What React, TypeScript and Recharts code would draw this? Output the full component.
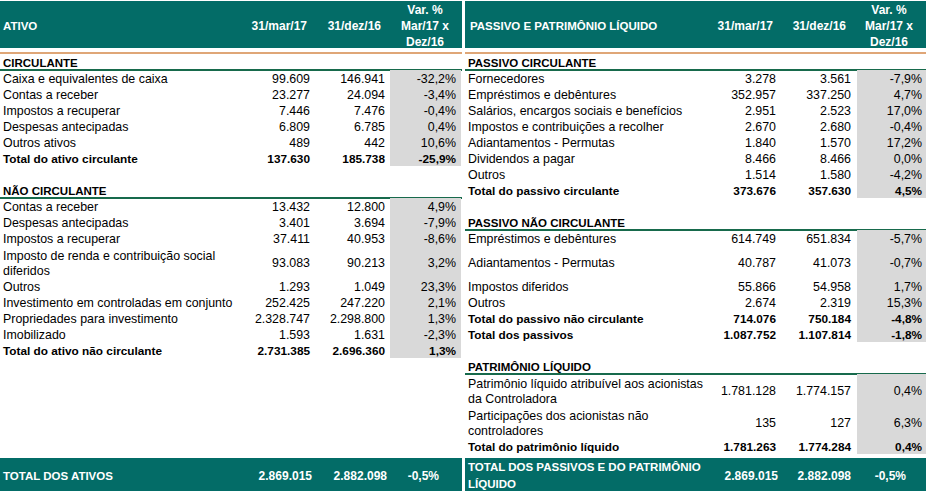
import React from "react";
import { BarChart, Bar, XAxis, YAxis, Customized } from "recharts";

// ---- data ----
const panelTitles = ["ATIVO", "PASSIVO E PATRIMÔNIO LÍQUIDO"];
const columnHeaders = ["31/mar/17", "31/dez/16"];
const varHeader = ["Var. %", "Mar/17 x", "Dez/16"];

const circulanteLabels = [
  "Caixa e equivalentes de caixa",
  "Contas a receber",
  "Impostos a recuperar",
  "Despesas antecipadas",
  "Outros ativos",
];
const circulanteMar17 = [99609, 23277, 7446, 6809, 489];
const circulanteDez16 = [146941, 24094, 7476, 6785, 442];
const circulanteVar = [-32.2, -3.4, -0.4, 0.4, 10.6];
const totalCirculante = ["Total do ativo circulante", 137630, 185738, -25.9] as const;

const naoCirculanteLabels = [
  "Contas a receber",
  "Despesas antecipadas",
  "Impostos a recuperar",
  "Imposto de renda e contribuição social\ndiferidos",
  "Outros",
  "Investimento em controladas em conjunto",
  "Propriedades para investimento",
  "Imobilizado",
];
const naoCirculanteMar17 = [13432, 3401, 37411, 93083, 1293, 252425, 2328747, 1593];
const naoCirculanteDez16 = [12800, 3694, 40953, 90213, 1049, 247220, 2298800, 1631];
const naoCirculanteVar = [4.9, -7.9, -8.6, 3.2, 23.3, 2.1, 1.3, -2.3];
const totalNaoCirculante = ["Total do ativo não circulante", 2731385, 2696360, 1.3] as const;
const totalAtivos = ["TOTAL DOS ATIVOS", 2869015, 2882098, -0.5] as const;

const passivoCircLabels = [
  "Fornecedores",
  "Empréstimos e debêntures",
  "Salários, encargos sociais e benefícios",
  "Impostos e contribuições a recolher",
  "Adiantamentos - Permutas",
  "Dividendos a pagar",
  "Outros",
];
const passivoCircMar17 = [3278, 352957, 2951, 2670, 1840, 8466, 1514];
const passivoCircDez16 = [3561, 337250, 2523, 2680, 1570, 8466, 1580];
const passivoCircVar = [-7.9, 4.7, 17.0, -0.4, 17.2, 0.0, -4.2];
const totalPassivoCirc = ["Total do passivo circulante", 373676, 357630, 4.5] as const;

const passivoNaoCircLabels = [
  "Empréstimos e debêntures",
  "Adiantamentos - Permutas",
  "Impostos diferidos",
  "Outros",
];
const passivoNaoCircMar17 = [614749, 40787, 55866, 2674];
const passivoNaoCircDez16 = [651834, 41073, 54958, 2319];
const passivoNaoCircVar = [-5.7, -0.7, 1.7, 15.3];
const totalPassivoNaoCirc = ["Total do passivo não circulante", 714076, 750184, -4.8] as const;
const totalPassivos = ["Total dos passivos", 1087752, 1107814, -1.8] as const;

const patrimonioLabels = [
  "Patrimônio líquido atribuível aos acionistas\nda Controladora",
  "Participações dos acionistas não\ncontroladores",
];
const patrimonioMar17 = [1781128, 135];
const patrimonioDez16 = [1774157, 127];
const patrimonioVar = [0.4, 6.3];
const totalPatrimonio = ["Total do patrimônio líquido", 1781263, 1774284, 0.4] as const;
const totalPassivosPL = ["TOTAL DOS PASSIVOS E DO PATRIMÔNIO\nLÍQUIDO", 2869015, 2882098, -0.5] as const;

// ---- layout ----
const W = 926;
const H = 491;
const TOP = 54;
const ROW = 16;
const BANDS = 27;
const BASE = 5; // baseline offset from line centre
const FONT = "'Liberation Sans', Arial, Helvetica, sans-serif";
const TEAL = "#036c67";
const ORANGE = "#dfa677";
const LINE_GREEN = "#176a4c";
const GREY = "#d9d9d9";

const PANELS = [
  { x0: 0, x1: 462, labelX: 3, titleX: 3, cols: [310, 385, 456], grey: [390, 461], head: [307, 381, 425], foot: [312, 387, 439] },
  { x0: 465, x1: 926, labelX: 468, titleX: 470, cols: [776, 851, 922], grey: [857, 926], head: [773, 846, 889], foot: [778, 851, 906] },
];

type Total = readonly [string, number, number, number];
type Section = { title: string; labels: string[]; mar: number[]; dez: number[]; pct: number[]; totals: Total[]; tall?: number[] };
type Slot =
  | { kind: "blank" | "cont" }
  | { kind: "section"; label: string }
  | { kind: "item" | "total" | "footer"; label: string; mar: number; dez: number; pct: number; span: number };

function buildPanel(sections: Section[], footer: Total): Slot[] {
  const slots: Slot[] = [];
  sections.forEach((s, si) => {
    if (si > 0) slots.push({ kind: "blank" });
    slots.push({ kind: "section", label: s.title });
    s.labels.forEach((label, i) => {
      const span = label.includes("\n") || (s.tall ?? []).includes(i) ? 2 : 1;
      slots.push({ kind: "item", label, mar: s.mar[i], dez: s.dez[i], pct: s.pct[i], span });
      if (span === 2) slots.push({ kind: "cont" });
    });
    s.totals.forEach((t) => slots.push({ kind: "total", label: t[0], mar: t[1], dez: t[2], pct: t[3], span: 1 }));
  });
  while (slots.length < BANDS - 2) slots.push({ kind: "blank" });
  slots.push({ kind: "footer", label: footer[0], mar: footer[1], dez: footer[2], pct: footer[3], span: 2 });
  slots.push({ kind: "cont" });
  return slots;
}

const leftSlots = buildPanel(
  [
    { title: "CIRCULANTE", labels: circulanteLabels, mar: circulanteMar17, dez: circulanteDez16, pct: circulanteVar, totals: [totalCirculante] },
    { title: "NÃO CIRCULANTE", labels: naoCirculanteLabels, mar: naoCirculanteMar17, dez: naoCirculanteDez16, pct: naoCirculanteVar, totals: [totalNaoCirculante] },
  ],
  totalAtivos
);

const rightSlots = buildPanel(
  [
    { title: "PASSIVO CIRCULANTE", labels: passivoCircLabels, mar: passivoCircMar17, dez: passivoCircDez16, pct: passivoCircVar, totals: [totalPassivoCirc] },
    { title: "PASSIVO NÃO CIRCULANTE", labels: passivoNaoCircLabels, mar: passivoNaoCircMar17, dez: passivoNaoCircDez16, pct: passivoNaoCircVar, totals: [totalPassivoNaoCirc, totalPassivos], tall: [1] },
    { title: "PATRIMÔNIO LÍQUIDO", labels: patrimonioLabels, mar: patrimonioMar17, dez: patrimonioDez16, pct: patrimonioVar, totals: [totalPatrimonio] },
  ],
  totalPassivosPL
);

// one band per table line; the (invisible) bar carries the left-hand March value
const rows = leftSlots.map((s, i) => ({ row: `r${i}`, mar: "mar" in s ? s.mar : 0 }));

function fmtNum(n: number) {
  return String(Math.round(n)).replace(/\B(?=(\d{3})+(?!\d))/g, ".");
}
function fmtPct(v: number) {
  return v.toFixed(1).replace(".", ",") + "%";
}

function renderSlot(slot: Slot, p: (typeof PANELS)[number], y: number, key: string) {
  const top = y - ROW / 2;
  if (!slot || slot.kind === "blank" || slot.kind === "cont") return null;
  if (slot.kind === "section") {
    return (
      <g key={key}>
        <text x={p.labelX} y={y + BASE} fontWeight="bold" fontSize={11.5} fill="#000">{slot.label}</text>
        <rect x={p.x0} y={top + ROW - 1} width={p.x1 - p.x0} height={2} fill={LINE_GREEN} />
      </g>
    );
  }
  const lines = slot.label.split("\n");
  if (slot.kind === "footer") {
    const cy = top + 4 + 16.5;
    return (
      <g key={key} fill="#fff" fontWeight="bold">
        <rect x={p.x0} y={top + 4} width={p.x1 - p.x0} height={H - top - 4} fill={TEAL} />
        {lines.map((l, i) => (
          <text key={i} x={p.labelX} y={cy + BASE + (i - (lines.length - 1) / 2) * 17} fontSize={11.5}>{l}</text>
        ))}
        <text x={p.foot[0]} y={cy + BASE} textAnchor="end">{fmtNum(slot.mar)}</text>
        <text x={p.foot[1]} y={cy + BASE} textAnchor="end">{fmtNum(slot.dez)}</text>
        <text x={p.foot[2]} y={cy + BASE} textAnchor="end">{fmtPct(slot.pct)}</text>
      </g>
    );
  }
  const h = slot.span * ROW;
  const cy = top + h / 2;
  const isTotal = slot.kind === "total";
  return (
    <g key={key} fontWeight={isTotal ? "bold" : "normal"} fontSize={isTotal ? 11.8 : 12.4} fill="#000">
      <rect x={p.grey[0]} y={top} width={p.grey[1] - p.grey[0]} height={h} fill={GREY} />
      {lines.map((l, i) => (
        <text key={i} x={p.labelX} y={cy + BASE + (i - (lines.length - 1) / 2) * 15}>{l}</text>
      ))}
      <text x={p.cols[0]} y={cy + BASE} textAnchor="end">{fmtNum(slot.mar)}</text>
      <text x={p.cols[1]} y={cy + BASE} textAnchor="end">{fmtNum(slot.dez)}</text>
      <text x={p.cols[2]} y={cy + BASE} textAnchor="end">{fmtPct(slot.pct)}</text>
    </g>
  );
}

function RowTick(props: any) {
  const { y, index } = props;
  return (
    <g fontFamily={FONT} fontSize={12}>
      {renderSlot(leftSlots[index], PANELS[0], y, "l")}
      {renderSlot(rightSlots[index], PANELS[1], y, "r")}
    </g>
  );
}

function Header() {
  return (
    <g fontFamily={FONT} fontSize={12} fontWeight="bold">
      {PANELS.map((p, pi) => (
        <g key={pi}>
          <rect x={p.x0} y={1} width={p.x1 - p.x0} height={47} fill={TEAL} />
          <rect x={p.x0} y={52} width={p.x1 - p.x0} height={2} fill={ORANGE} />
          <text x={p.titleX} y={30} fill="#fff" fontSize={11.5}>{panelTitles[pi]}</text>
          <text x={p.head[0]} y={30} fill="#fff" textAnchor="end">{columnHeaders[0]}</text>
          <text x={p.head[1]} y={30} fill="#fff" textAnchor="end">{columnHeaders[1]}</text>
          {varHeader.map((t, i) => (
            <text key={i} x={p.head[2]} y={14 + i * 16} fill="#fff" textAnchor="middle">{t}</text>
          ))}
        </g>
      ))}
    </g>
  );
}

export default function App() {
  return (
    <div style={{ width: W, height: H, background: "#fff" }}>
      <style>{"body{margin:0}"}</style>
      <BarChart
        width={W}
        height={H}
        data={rows}
        layout="vertical"
        margin={{ top: TOP, right: 0, bottom: H - TOP - ROW * BANDS, left: 0 }}
      >
        <XAxis type="number" hide />
        <YAxis
          type="category"
          dataKey="row"
          width={1}
          interval={0}
          axisLine={false}
          tickLine={false}
          tick={<RowTick />}
        />
        <Bar dataKey="mar" fill="none" isAnimationActive={false} />
        <Customized component={<Header />} />
      </BarChart>
    </div>
  );
}
